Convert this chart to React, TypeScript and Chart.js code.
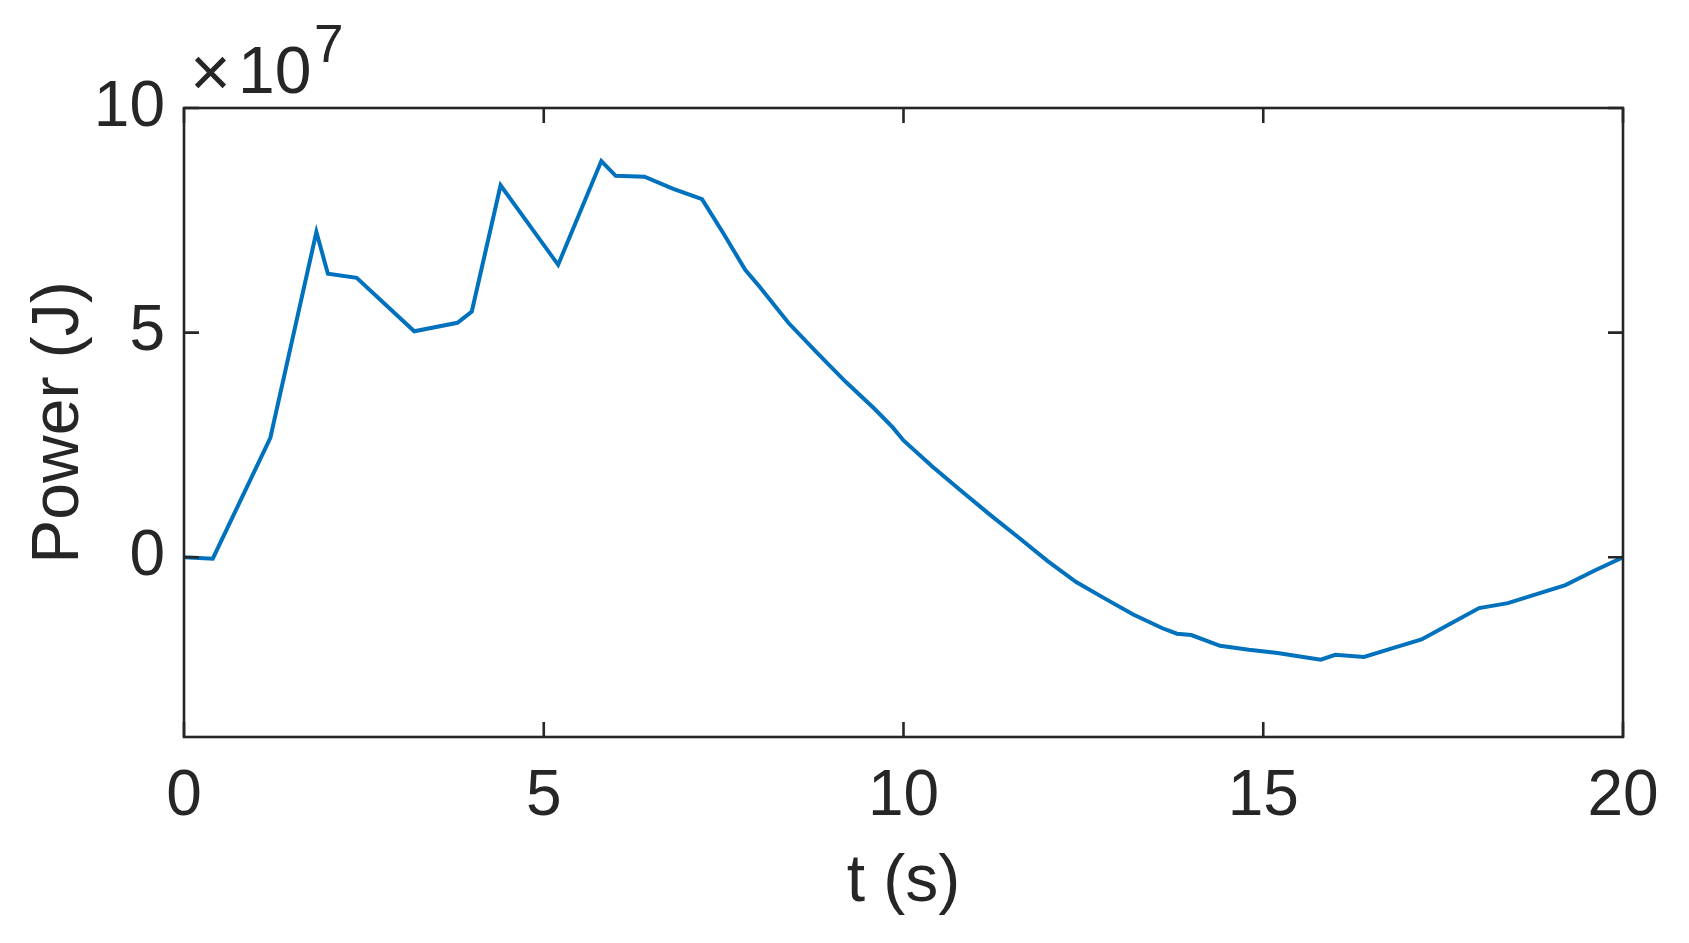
import React, { useEffect, useRef } from "react";
import { Chart, registerables } from "chart.js";

Chart.register(...registerables);

// time (s)
const timeS: number[] = [
  0, 0.4, 1.2, 1.84, 2.0, 2.4, 3.2, 3.8, 4.0, 4.4, 5.2, 5.8, 6.0, 6.4, 6.8, 7.2,
  7.5, 7.8, 8.0, 8.4, 8.8, 9.2, 9.6, 9.85, 10.0, 10.4, 10.8, 11.2, 11.6, 12.0,
  12.4, 12.8, 13.2, 13.6, 13.8, 14.0, 14.4, 14.8, 15.2, 15.6, 15.8, 16.0, 16.4,
  16.8, 17.2, 17.6, 18.0, 18.4, 18.8, 19.2, 19.6, 20.0,
];

// power, in units of 1e7 J
const powerE7: number[] = [
  0.0, -0.03, 2.66, 7.24, 6.31, 6.22, 5.03, 5.22, 5.47, 8.28, 6.51, 8.82, 8.49,
  8.47, 8.2, 7.97, 7.2, 6.4, 6.02, 5.22, 4.55, 3.9, 3.3, 2.89, 2.6, 2.02, 1.48,
  0.95, 0.44, -0.08, -0.55, -0.92, -1.28, -1.58, -1.7, -1.73, -1.97, -2.06,
  -2.13, -2.23, -2.28, -2.17, -2.22, -2.02, -1.83, -1.48, -1.13, -1.02, -0.82,
  -0.62, -0.3, 0.0,
];

const xTickValues: number[] = [0, 5, 10, 15, 20];
const yTickValues: number[] = [0, 5, 10];
const xTitle = "t (s)";
const yTitle = "Power (J)";
const exponentTimes = "×";
const exponentBase = "10";
const exponentPower = "7";

const INK = "#262626";
const FONT = '"Liberation Sans", Arial, sans-serif';

const matlabAxes = {
  id: "matlabAxes",
  afterDatasetsDraw(chart: any) {
    const { ctx, chartArea, scales } = chart;
    const { left, right, top, bottom } = chartArea;
    const x = scales.x;
    const y = scales.y;
    const len = 15;
    ctx.save();
    ctx.strokeStyle = INK;
    ctx.lineWidth = 2.6;
    ctx.lineCap = "butt";
    ctx.beginPath();
    x.ticks.forEach((t: any) => {
      const px = x.getPixelForValue(t.value);
      ctx.moveTo(px, bottom);
      ctx.lineTo(px, bottom - len);
      ctx.moveTo(px, top);
      ctx.lineTo(px, top + len);
    });
    y.ticks.forEach((t: any) => {
      const py = y.getPixelForValue(t.value);
      ctx.moveTo(left, py);
      ctx.lineTo(left + len, py);
      ctx.moveTo(right, py);
      ctx.lineTo(right - len, py);
    });
    ctx.stroke();
    ctx.strokeRect(left, top, right - left, bottom - top);

    // exponent label
    ctx.fillStyle = INK;
    ctx.textBaseline = "alphabetic";
    ctx.textAlign = "left";
    ctx.font = `70px ${FONT}`;
    ctx.fillText(exponentTimes, left + 6, top - 12);
    ctx.font = `66px ${FONT}`;
    ctx.fillText(exponentBase, left + 54, top - 15);
    ctx.font = `53px ${FONT}`;
    ctx.fillText(exponentPower, left + 130, top - 46);
    ctx.restore();
  },
};

export default function App() {
  const canvasRef = useRef<HTMLCanvasElement | null>(null);

  useEffect(() => {
    const canvas = canvasRef.current;
    if (!canvas) return;
    const chart = new Chart(canvas, {
      type: "line",
      data: {
        datasets: [
          {
            data: timeS.map((t, i) => ({ x: t, y: powerE7[i] })),
            borderColor: "#0072BD",
            borderWidth: 4,
            pointRadius: 0,
            tension: 0,
            fill: false,
          },
        ],
      },
      options: {
        animation: false,
        responsive: false,
        devicePixelRatio: 1,
        layout: { padding: { top: 108, right: 66, left: 0, bottom: 0 } },
        plugins: {
          legend: { display: false },
          tooltip: { enabled: false },
        },
        scales: {
          x: {
            type: "linear",
            min: 0,
            max: 20,
            grid: { display: false, drawTicks: false },
            border: { display: false },
            afterBuildTicks: (axis: any) => {
              axis.ticks = xTickValues.map((v) => ({ value: v }));
            },
            afterFit: (axis: any) => {
              axis.height = 943 - 737;
            },
            ticks: {
              color: INK,
              font: { family: FONT, size: 64 },
              padding: 22,
              maxRotation: 0,
            },
            title: {
              display: true,
              text: xTitle,
              color: INK,
              font: { family: FONT, size: 66 },
              padding: { top: 0, bottom: 21 },
            },
          },
          y: {
            type: "linear",
            min: -4,
            max: 10,
            grid: { display: false, drawTicks: false },
            border: { display: false },
            afterBuildTicks: (axis: any) => {
              axis.ticks = yTickValues.map((v) => ({ value: v }));
            },
            afterFit: (axis: any) => {
              axis.width = 184;
            },
            ticks: {
              color: INK,
              font: { family: FONT, size: 64 },
              padding: 19,
            },
            title: {
              display: true,
              text: yTitle,
              color: INK,
              font: { family: FONT, size: 66 },
              padding: { top: 20, bottom: 0 },
            },
          },
        },
      },
      plugins: [matlabAxes],
    });
    return () => chart.destroy();
  }, []);

  return (
    <div style={{ position: "fixed", left: 0, top: 0, width: 1689, height: 943, background: "#fff" }}>
      <canvas ref={canvasRef} width={1689} height={943} />
    </div>
  );
}
